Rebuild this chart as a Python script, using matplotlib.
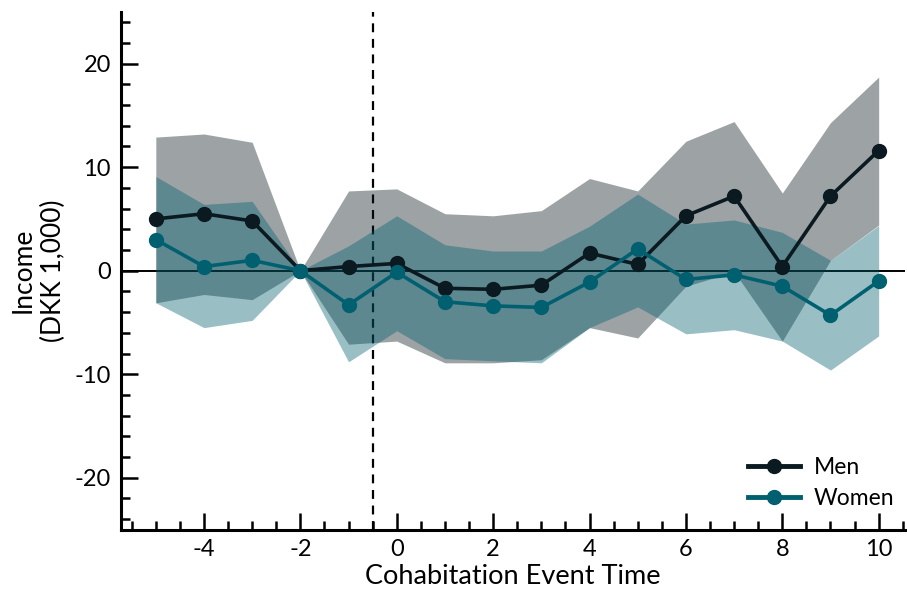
import matplotlib
matplotlib.use("Agg")
import matplotlib.pyplot as plt
from matplotlib.ticker import MultipleLocator

plt.rcParams['font.family'] = ['Lato', 'DejaVu Sans']
plt.rcParams['axes.unicode_minus'] = False

event_time = [-5, -4, -3, -2, -1, 0, 1, 2, 3, 4, 5, 6, 7, 8, 9, 10]
men = [5.0, 5.5, 4.8, 0.0, 0.4, 0.7, -1.7, -1.8, -1.4, 1.7, 0.6, 5.3, 7.2, 0.4, 7.2, 11.6]
men_hi = [12.9, 13.2, 12.4, 0.0, 7.7, 7.9, 5.5, 5.3, 5.8, 8.9, 7.7, 12.5, 14.4, 7.5, 14.3, 18.7]
men_lo = [-3.1, -2.3, -2.8, 0.0, -7.1, -6.8, -8.9, -8.9, -8.6, -5.5, -6.5, -1.5, -0.1, -6.8, 1.0, 4.4]
women = [3.0, 0.4, 1.0, 0.0, -3.3, -0.15, -3.0, -3.4, -3.55, -1.1, 2.1, -0.85, -0.4, -1.5, -4.3, -1.0]
women_hi = [9.1, 6.4, 6.7, 0.0, 2.4, 5.3, 2.5, 1.9, 1.9, 4.3, 7.4, 4.5, 4.9, 3.7, 1.0, 4.35]
women_lo = [-3.1, -5.5, -4.8, 0.0, -8.8, -5.8, -8.5, -8.7, -8.9, -5.5, -3.5, -6.1, -5.7, -6.8, -9.6, -6.3]

men_color = '#0a1a20'
women_color = '#006070'

fig = plt.figure(figsize=(9.07, 5.91), dpi=100)
ax = fig.add_axes([0.133, 0.104, 0.865, 0.876])

ax.axhline(0, color='black', lw=1.4, zorder=1)
ax.axvline(-0.5, color='black', lw=1.6, ls=(0, (4, 3)), zorder=1)

ax.fill_between(event_time, men_lo, men_hi, color=men_color, alpha=0.4, lw=0, zorder=2)
ax.fill_between(event_time, women_lo, women_hi, color=women_color, alpha=0.4, lw=0, zorder=3)

ax.plot(event_time, men, color=men_color, lw=2.6, marker='o', ms=10, label='Men', zorder=4)
ax.plot(event_time, women, color=women_color, lw=2.6, marker='o', ms=10, label='Women', zorder=5)

ax.set_xlim(-5.73, 10.55)
ax.set_ylim(-25, 25)
ax.xaxis.set_major_locator(MultipleLocator(2))
ax.xaxis.set_minor_locator(MultipleLocator(0.5))
ax.yaxis.set_major_locator(MultipleLocator(10))
ax.yaxis.set_minor_locator(MultipleLocator(2))

for s in ['top', 'right']:
    ax.spines[s].set_visible(False)
for s in ['left', 'bottom']:
    ax.spines[s].set_linewidth(2.2)

ax.tick_params(which='major', direction='in', length=12, width=1.8, labelsize=17, pad=7)
ax.tick_params(which='minor', direction='in', length=6.5, width=1.8)

ax.set_xlabel('Cohabitation Event Time', fontsize=19.5, labelpad=3)
ax.set_ylabel('Income\n(DKK 1,000)', fontsize=19, labelpad=6, linespacing=1.25)

leg = ax.legend(loc='lower right', frameon=False, fontsize=16.5, handlelength=2.3,
                labelspacing=0.45, handletextpad=0.6, bbox_to_anchor=(1.013, 0.0))
for h in leg.legend_handles:
    h.set_linewidth(3.5)

fig.savefig('out.png', dpi=100)
